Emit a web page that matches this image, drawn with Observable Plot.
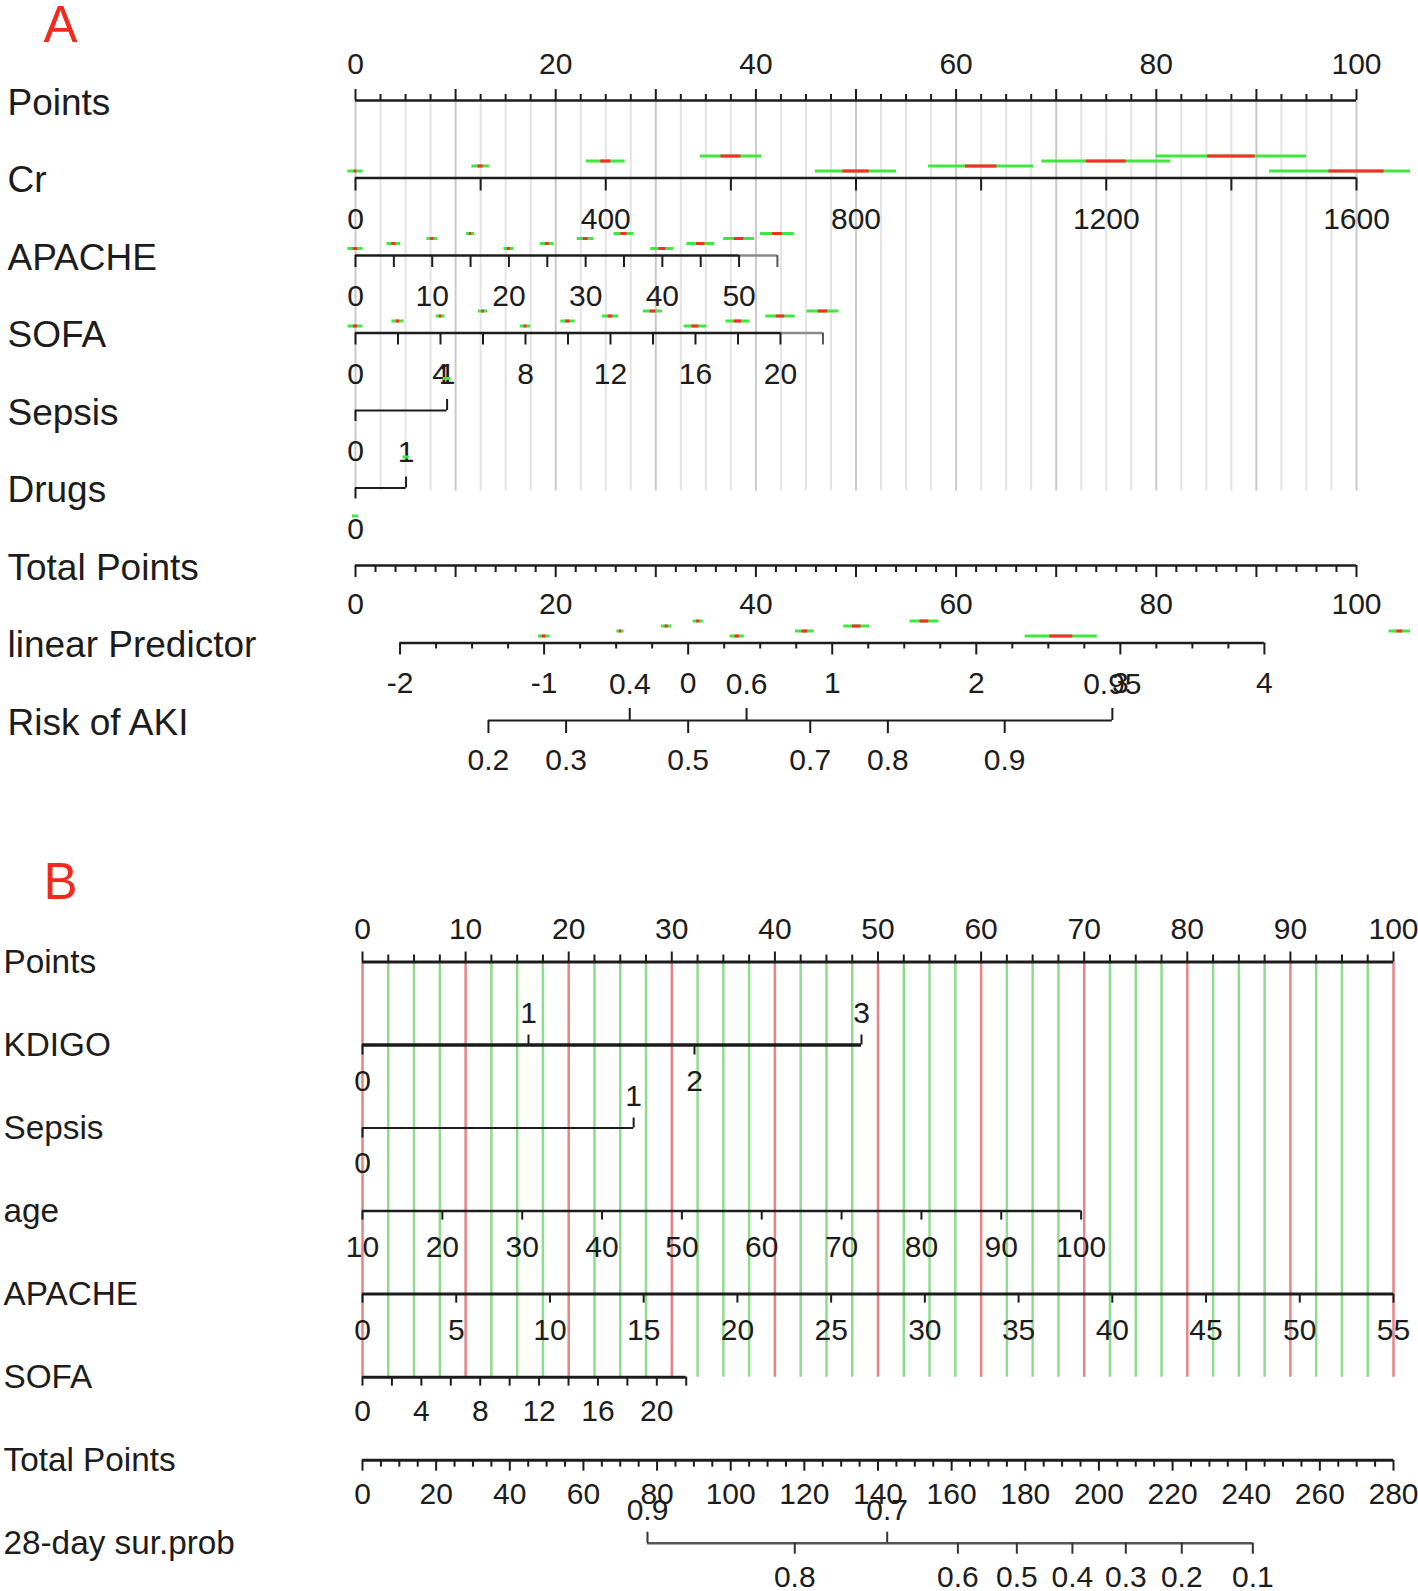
<!DOCTYPE html>
<html><head><meta charset="utf-8">
<script src="https://cdn.jsdelivr.net/npm/d3@7"></script>
<script src="https://cdn.jsdelivr.net/npm/@observablehq/plot@0.6"></script>
<style>
html,body{margin:0;padding:0;background:#fff;}
#chart svg{display:block;}
</style></head><body><div id="chart"></div>
<script>
// ================= DATA : panel A (Risk of AKI nomogram) =================
const rowsA = ["Points","Cr","APACHE","SOFA","Sepsis","Drugs","Total Points","linear Predictor","Risk of AKI"];
const pointsLabelsA = [0,20,40,60,80,100];
const crTicks = [0,200,400,600,800,1000,1200,1400,1600];
const crLabels = [0,400,800,1200,1600];
const crRange = [0,1600], crPts = [0,100];
const apacheTicksA = [0,5,10,15,20,25,30,35,40,45,50,55];
const apacheLabelsA = [0,10,20,30,40,50];
const apacheRangeA = [0,55], apachePtsA = [0,42.15];
const sofaTicksA = [0,2,4,6,8,10,12,14,16,18,20,22];
const sofaLabelsA = [0,4,8,12,16,20];
const sofaRangeA = [0,22], sofaPtsA = [0,46.7];
const sepsisLevelsA = ["0","1"], sepsisPtsA = [0,9.15];
const drugsLevels = ["0","1"], drugsPts = [0,5.05];
const totalLabelsA = [0,20,40,60,80,100];
const lpLabels = [-2,-1,0,1,2,3,4];
const lpAnchorValues = [-2,4], lpAnchorPts = [4.45,90.8];
const riskBelow = [0.2,0.3,0.5,0.7,0.8,0.9];
const riskAbove = [0.4,0.6,0.95];
// confidence bars: [value, green half-width, red half-width] (in variable units)
const crCI = [[0,12,2],[200,14,4],[400,31,8],[600,49,16],[800,65,21],[1000,84,25],[1200,103,32],[1400,120,38],[1600,139,44]];
const apacheCI = [[0,1.0,0.3],[5,0.9,0.25],[10,0.7,0.2],[15,0.55,0.15],[20,0.65,0.2],[25,0.9,0.25],[30,1.1,0.3],[35,1.3,0.4],[40,1.5,0.45],[45,1.8,0.55],[50,2.0,0.6],[55,2.2,0.65]];
const sofaCI = [[0,0.35,0.1],[2,0.29,0.08],[4,0.21,0.06],[6,0.21,0.06],[8,0.25,0.07],[10,0.34,0.1],[12,0.38,0.11],[14,0.45,0.13],[16,0.54,0.16],[18,0.57,0.17],[20,0.69,0.2],[22,0.75,0.22]];
const lpCI = [[-1.0,0.04,0.012],[-0.47,0.025,0.008],[-0.15,0.035,0.01],[0.07,0.035,0.01],[0.34,0.05,0.015],[0.81,0.065,0.02],[1.17,0.09,0.03],[1.64,0.1,0.03],[2.59,0.25,0.08],[4.94,0.075,0.02]];

// ================= DATA : panel B (28-day survival nomogram) =================
const rowsB = ["Points","KDIGO","Sepsis","age","APACHE","SOFA","Total Points","28-day sur.prob"];
const pointsLabelsB = [0,10,20,30,40,50,60,70,80,90,100];
const kdigoLevels = ["0","1","2","3"], kdigoPts = [0,16.1,32.2,48.4], kdigoAbove = ["1","3"];
const sepsisLevelsB = ["0","1"], sepsisPtsB = [0,26.3];
const ageTicks = [10,20,30,40,50,60,70,80,90,100];
const ageRange = [10,100], agePts = [0,69.7];
const apacheTicksB = [0,5,10,15,20,25,30,35,40,45,50,55];
const apacheRangeB = [0,55], apachePtsB = [0,100];
const sofaTicksB = [0,2,4,6,8,10,12,14,16,18,20,22];
const sofaLabelsB = [0,4,8,12,16,20];
const sofaRangeB = [0,22], sofaPtsB = [0,31.4];
const totalLabelsB = [0,20,40,60,80,100,120,140,160,180,200,220,240,260,280];
const totalRangeB = [0,280];
const survProb = [0.9,0.8,0.7,0.6,0.5,0.4,0.3,0.2,0.1];
const survTotal = [77.4,117.4,142.5,161.7,177.7,192.8,207.3,222.5,241.8];
const survAbove = [0.9,0.7];

// ================= STYLE =================
const INK = "#1c1c1c", GREEN = "#3fe83f", RED = "#ff2a2a";
const FONT = "'Liberation Sans', Arial, sans-serif";
const NARROW = "'Liberation Sans Narrow', 'Arial Narrow', 'Liberation Sans', sans-serif";
const lvl = [-7,-12,-17,-22];

function hline(row, x1, x2, o = {}) {
  return Plot.ruleY([{y: row, x1, x2}], {y: "y", x1: "x1", x2: "x2", stroke: o.stroke || INK, strokeWidth: o.sw || 2.5});
}
function ticks(row, xs, lenPx, gap, o = {}) {
  return Plot.ruleX(xs, {x: d => d, y1: row, y2: row + lenPx / gap, stroke: o.stroke || INK, strokeWidth: o.sw || 2});
}
function labels(row, items, dy, size, family, o = {}) {
  return Plot.text(items, {x: "x", y: row, text: "t", dy, fontSize: size, fontFamily: family,
    fill: o.fill || INK, textAnchor: "middle", lineAnchor: "middle"});
}
function ciMarks(list, row, gap, toPts, clipHi) {
  const data = list.map((d, i) => ({
    y: row + lvl[i % 4] / gap,
    gl: toPts(d[0] - d[1]), gh: Math.min(clipHi, toPts(d[0] + d[1])),
    rl: toPts(d[0] - d[2]), rh: Math.min(clipHi, toPts(d[0] + d[2]))
  }));
  return [
    Plot.ruleY(data, {y: "y", x1: "gl", x2: "gh", stroke: GREEN, strokeWidth: 3}),
    Plot.ruleY(data, {y: "y", x1: "rl", x2: "rh", stroke: RED, strokeWidth: 3})
  ];
}

// ================= PANEL A =================
const gapA = 77.5, clipA = 105.4;
const crS = d3.scaleLinear(crRange, crPts);
const apS = d3.scaleLinear(apacheRangeA, apachePtsA);
const soS = d3.scaleLinear(sofaRangeA, sofaPtsA);
const lpS = d3.scaleLinear(lpAnchorValues, lpAnchorPts);
const riskPts = p => lpS(Math.log(p / (1 - p)));
const rA = name => rowsA.indexOf(name);

const step = (a, b, s) => d3.range(a, b + s / 2, s);
const minor25 = step(0, 100, 2.5).filter(v => v % 10 !== 0);
const major10 = step(0, 100, 10);

const marksA = [
  // grid
  Plot.ruleX(minor25, {x: d => d, y1: 0, y2: rA("Drugs") + 3 / gapA, stroke: "#e4e4e4", strokeWidth: 2}),
  Plot.ruleX(major10, {x: d => d, y1: 0, y2: rA("Drugs") + 3 / gapA, stroke: "#c9c9c9", strokeWidth: 2}),
  // row labels
  Plot.text(rowsA, {y: (d, i) => i, text: d => d, frameAnchor: "left", dx: 7, dy: 2.5, textAnchor: "start", lineAnchor: "middle", fontSize: 37, fontFamily: FONT, fill: INK}),
  // Points
  hline(0, 0, 100),
  ticks(0, minor25, -6, gapA), ticks(0, major10, -11, gapA),
  labels(0, pointsLabelsA.map(v => ({x: v, t: String(v)})), -36, 30, FONT),
  // Cr
  ...ciMarks(crCI, rA("Cr"), gapA, crS, clipA),
  hline(rA("Cr"), 0, 100),
  ticks(rA("Cr"), crTicks.map(crS), 13, gapA),
  labels(rA("Cr"), crLabels.map(v => ({x: crS(v), t: String(v)})), 41, 30, FONT),
  // APACHE
  ...ciMarks(apacheCI, rA("APACHE"), gapA, apS, clipA),
  hline(rA("APACHE"), apS(50), apS(55), {stroke: "#8a8a8a"}),
  hline(rA("APACHE"), 0, apS(50)),
  ticks(rA("APACHE"), apacheTicksA.filter(v => v <= 50).map(apS), 12, gapA),
  ticks(rA("APACHE"), [apS(55)], 12, gapA, {stroke: "#555"}),
  labels(rA("APACHE"), apacheLabelsA.map(v => ({x: apS(v), t: String(v)})), 41, 30, FONT),
  // SOFA
  ...ciMarks(sofaCI, rA("SOFA"), gapA, soS, clipA),
  hline(rA("SOFA"), soS(20), soS(22), {stroke: "#8a8a8a"}),
  hline(rA("SOFA"), 0, soS(20)),
  ticks(rA("SOFA"), sofaTicksA.filter(v => v <= 20).map(soS), 12, gapA),
  ticks(rA("SOFA"), [soS(22)], 12, gapA, {stroke: "#555"}),
  labels(rA("SOFA"), sofaLabelsA.map(v => ({x: soS(v), t: String(v)})), 41, 30, FONT),
  // Sepsis
  hline(rA("Sepsis"), sepsisPtsA[0], sepsisPtsA[1], {sw: 2}),
  ticks(rA("Sepsis"), [sepsisPtsA[0]], 11, gapA),
  ticks(rA("Sepsis"), [sepsisPtsA[1]], -11, gapA),
  labels(rA("Sepsis"), [{x: sepsisPtsA[1], t: sepsisLevelsA[1]}], -36, 30, FONT),
  labels(rA("Sepsis"), [{x: sepsisPtsA[0], t: sepsisLevelsA[0]}], 41, 30, FONT),
  Plot.ruleY([{y: rA("Sepsis") - 32 / gapA, a: sepsisPtsA[1] - 0.4, b: sepsisPtsA[1] + 0.4}], {y: "y", x1: "a", x2: "b", stroke: GREEN, strokeWidth: 3}),
  // Drugs
  hline(rA("Drugs"), drugsPts[0], drugsPts[1], {sw: 2}),
  ticks(rA("Drugs"), [drugsPts[0]], 11, gapA),
  ticks(rA("Drugs"), [drugsPts[1]], -11, gapA),
  labels(rA("Drugs"), [{x: drugsPts[1], t: drugsLevels[1]}], -36, 30, FONT),
  labels(rA("Drugs"), [{x: drugsPts[0], t: drugsLevels[0]}], 41, 30, FONT),
  Plot.ruleY([{y: rA("Drugs") - 31 / gapA, a: drugsPts[1] - 0.3, b: drugsPts[1] + 0.3},
              {y: rA("Drugs") + 28 / gapA, a: drugsPts[0] - 0.3, b: drugsPts[0] + 0.3}], {y: "y", x1: "a", x2: "b", stroke: GREEN, strokeWidth: 3}),
  // Total Points
  hline(rA("Total Points"), 0, 100),
  ticks(rA("Total Points"), step(0, 100, 2).filter(v => v % 10 !== 0), 7, gapA),
  ticks(rA("Total Points"), major10, 12, gapA),
  labels(rA("Total Points"), totalLabelsA.map(v => ({x: v, t: String(v)})), 38.5, 30, FONT),
  // linear predictor
  ...ciMarks(lpCI, rA("linear Predictor"), gapA, lpS, clipA),
  hline(rA("linear Predictor"), lpS(-2), lpS(4)),
  ticks(rA("linear Predictor"), step(-2, 4, 0.25).filter(v => !Number.isInteger(v)).map(lpS), 6, gapA),
  ticks(rA("linear Predictor"), lpLabels.map(lpS), 12, gapA),
  labels(rA("linear Predictor"), lpLabels.map(v => ({x: lpS(v), t: String(v)})), 40, 30, FONT),
  // Risk of AKI
  hline(rA("Risk of AKI"), riskPts(0.2), riskPts(0.95), {sw: 2}),
  ticks(rA("Risk of AKI"), riskBelow.map(riskPts), 13, gapA),
  ticks(rA("Risk of AKI"), riskAbove.map(riskPts), -12, gapA),
  labels(rA("Risk of AKI"), riskBelow.map(v => ({x: riskPts(v), t: String(v)})), 40, 30, FONT),
  labels(rA("Risk of AKI"), riskAbove.map(v => ({x: riskPts(v), t: String(v)})), -36, 30, FONT),
  // panel letter
  Plot.text(["A"], {frameAnchor: "top-left", dx: 60, dy: 25, text: d => d, textAnchor: "middle", lineAnchor: "middle", fontSize: 51, fontFamily: FONT, fill: "#f5281c"})
];

const plotA = Plot.plot({
  width: 1418, height: 800, margin: 0,
  x: {domain: [0, 100], range: [355, 1356], axis: null},
  y: {domain: [0, 8], range: [100, 720], axis: null},
  style: {background: "#fff", fontFamily: FONT, overflow: "visible"},
  marks: marksA
});

// ================= PANEL B =================
const gapB = 83.03;
const rB = name => rowsB.indexOf(name);
const ageS = d3.scaleLinear(ageRange, agePts);
const apB = d3.scaleLinear(apacheRangeB, apachePtsB);
const soB = d3.scaleLinear(sofaRangeB, sofaPtsB);
const totB = d3.scaleLinear(totalRangeB, [0, 100]);
const survPts = survTotal.map(totB);
const kdPt = k => kdigoPts[kdigoLevels.indexOf(k)];

const marksB = [
  // vertical guide lines
  Plot.ruleX(minor25, {x: d => d, y1: 0, y2: rB("SOFA"), stroke: "#8fdc8f", strokeWidth: 2.5}),
  Plot.ruleX(major10, {x: d => d, y1: 0, y2: rB("SOFA"), stroke: "#e98484", strokeWidth: 2.5}),
  // row labels
  Plot.text(rowsB, {y: (d, i) => i, text: d => d, frameAnchor: "left", dx: 3, textAnchor: "start", lineAnchor: "middle", fontSize: 33.3, fontFamily: FONT, fill: INK}),
  // Points
  hline(0, 0, 100, {sw: 3}),
  ticks(0, minor25, -7, gapB), ticks(0, major10, -10, gapB),
  labels(0, pointsLabelsB.map(v => ({x: v, t: String(v)})), -33, 30, NARROW),
  // KDIGO
  hline(rB("KDIGO"), 0, kdPt("3"), {sw: 3.5}),
  ticks(rB("KDIGO"), kdigoLevels.filter(k => !kdigoAbove.includes(k)).map(kdPt), 10, gapB),
  ticks(rB("KDIGO"), kdigoAbove.map(kdPt), -10, gapB),
  labels(rB("KDIGO"), kdigoAbove.map(k => ({x: kdPt(k), t: k})), -32, 30, NARROW),
  labels(rB("KDIGO"), kdigoLevels.filter(k => !kdigoAbove.includes(k)).map(k => ({x: kdPt(k), t: k})), 36, 30, NARROW),
  // Sepsis
  hline(rB("Sepsis"), sepsisPtsB[0], sepsisPtsB[1], {sw: 2}),
  ticks(rB("Sepsis"), [sepsisPtsB[0]], 10, gapB),
  ticks(rB("Sepsis"), [sepsisPtsB[1]], -10, gapB),
  labels(rB("Sepsis"), [{x: sepsisPtsB[1], t: sepsisLevelsB[1]}], -32, 30, NARROW),
  labels(rB("Sepsis"), [{x: sepsisPtsB[0], t: sepsisLevelsB[0]}], 35, 30, NARROW),
  // age
  hline(rB("age"), 0, ageS(100), {sw: 2.5}),
  ticks(rB("age"), ageTicks.map(ageS), 9, gapB),
  labels(rB("age"), ageTicks.map(v => ({x: ageS(v), t: String(v)})), 36, 30, NARROW),
  // APACHE
  hline(rB("APACHE"), 0, 100, {sw: 3}),
  ticks(rB("APACHE"), apacheTicksB.map(apB), 9, gapB),
  labels(rB("APACHE"), apacheTicksB.map(v => ({x: apB(v), t: String(v)})), 36, 30, NARROW),
  // SOFA
  hline(rB("SOFA"), 0, soB(22), {sw: 3}),
  ticks(rB("SOFA"), sofaTicksB.map(soB), 9, gapB),
  labels(rB("SOFA"), sofaLabelsB.map(v => ({x: soB(v), t: String(v)})), 34, 30, NARROW),
  // Total Points
  hline(rB("Total Points"), 0, 100, {sw: 3}),
  ticks(rB("Total Points"), step(0, 280, 5).filter(v => v % 20 !== 0).map(totB), 7, gapB),
  ticks(rB("Total Points"), totalLabelsB.map(totB), 11, gapB),
  labels(rB("Total Points"), totalLabelsB.map(v => ({x: totB(v), t: String(v)})), 34, 30, NARROW),
  // survival probability
  hline(rB("28-day sur.prob"), d3.min(survPts), d3.max(survPts), {sw: 2.5, stroke: "#555"}),
  ticks(rB("28-day sur.prob"), survPts.filter((p, i) => !survAbove.includes(survProb[i])), 11, gapB, {stroke: "#333"}),
  ticks(rB("28-day sur.prob"), survPts.filter((p, i) => survAbove.includes(survProb[i])), -11, gapB, {stroke: "#333"}),
  labels(rB("28-day sur.prob"), survProb.map((v, i) => ({x: survPts[i], t: String(v), a: survAbove.includes(v)})).filter(d => !d.a), 34, 30, NARROW),
  labels(rB("28-day sur.prob"), survProb.map((v, i) => ({x: survPts[i], t: String(v), a: survAbove.includes(v)})).filter(d => d.a), -33, 30, NARROW),
  // panel letter
  Plot.text(["B"], {frameAnchor: "top-left", dx: 60, dy: 82, text: d => d, textAnchor: "middle", lineAnchor: "middle", fontSize: 51, fontFamily: FONT, fill: "#f5281c"})
];

const plotB = Plot.plot({
  width: 1418, height: 791, margin: 0,
  x: {domain: [0, 100], range: [362, 1393], axis: null},
  y: {domain: [0, 7], range: [161.5, 742.7], axis: null},
  style: {background: "#fff", fontFamily: FONT, overflow: "visible"},
  marks: marksB
});

document.getElementById("chart").append(plotA, plotB);
</script>
</body></html>
